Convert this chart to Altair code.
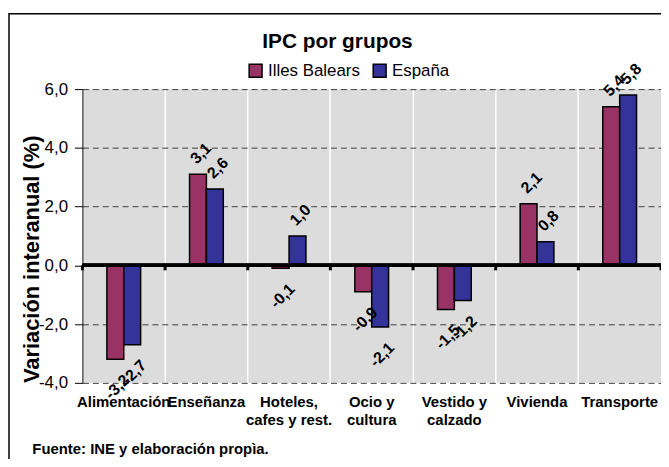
import altair as alt
import pandas as pd

categories = ["Alimentación", "Enseñanza", "Hoteles,\ncafes y rest.", "Ocio y\ncultura",
              "Vestido y\ncalzado", "Vivienda", "Transporte"]
series = ["Illes Balears", "España"]
baleares = [-3.2, 3.1, -0.1, -0.9, -1.5, 2.1, 5.4]
espana = [-2.7, 2.6, 1.0, -2.1, -1.2, 0.8, 5.8]
colors = ["#993366", "#333399"]
y_ticks = [-4, -2, 0, 2, 4, 6]
title_text = "IPC por grupos"
source_text = "Fuente: INE y elaboración propìa."
y_title = "Variación interanual (%)"

rows = []
for s, vals in zip(series, [baleares, espana]):
    for c, v in zip(categories, vals):
        rows.append({"categoria": c, "serie": s, "valor": v,
                     "etiqueta": f"{v:.1f}".replace(".", ",")})
df = pd.DataFrame(rows)
cats_df = pd.DataFrame({"categoria": categories})
one = pd.DataFrame({"t": [title_text]})

W, H = 583, 296
FONT = "Liberation Sans"
BW = W / len(categories)
BAR = 17
C45 = 0.7071


def rot_offset(sx, sy):
    # screen offset -> text-frame offset for a 315-degree rotated label
    return C45 * (sx - sy), C45 * (sx + sy)


pdx, pdy = rot_offset(3, -21)
ndx, ndy = rot_offset(2, 28)

xaxis = alt.Axis(
    title=source_text, labelAngle=0, labelExpr="split(datum.label, '\\n')",
    grid=True, gridColor="white", gridWidth=1.5, bandPosition=0,
    ticks=False, domain=False, labelFontSize=15, labelFontWeight="bold",
    labelPadding=12, labelLineHeight=18, labelOverlap=False, labelBound=False,
    labelColor="black", titleX=-51, titleY=71, titleAlign="left", titleAnchor="start",
    titleFontSize=15, titleFontWeight="bold", titleBaseline="alphabetic", titleColor="black",
)
xscale = alt.Scale(paddingInner=0, paddingOuter=0)
xenc = alt.X("categoria:N", sort=categories, scale=xscale, axis=xaxis)

yaxis = alt.Axis(
    values=y_ticks,
    labelExpr="(datum.value < 0 ? '-' : '') + replace(format(abs(datum.value), '.1f'), '.', ',')",
    grid=True, gridDash=[6, 4], gridColor="#404040", gridWidth=1,
    domainColor="black", domainWidth=1, tickColor="black", tickSize=8,
    labelFontSize=17, labelPadding=7, labelColor="black",
    title=y_title, titleFontSize=22, titleFontWeight="bold", titleX=-51, titleY=171,
    titleAngle=270, titleAlign="center", titleBaseline="middle", titleColor="black",
)
yscale = alt.Scale(domain=[-4, 6], nice=False, zero=False)
yenc = alt.Y("valor:Q", scale=yscale, axis=yaxis)

xoff = alt.XOffset("serie:N", sort=series,
                   scale=alt.Scale(paddingInner=0, paddingOuter=0,
                                   range=[BW / 2 - BAR, BW / 2 + BAR]))

base = alt.Chart(df)

bars = base.mark_bar(stroke="black", strokeWidth=1.5).encode(
    x=xenc, xOffset=xoff, y=yenc,
    color=alt.Color("serie:N", sort=series, scale=alt.Scale(domain=series, range=colors),
                    legend=alt.Legend(title=None, orient="none", legendX=166, legendY=-27,
                                      direction="horizontal", symbolType="square",
                                      symbolSize=169, symbolStrokeColor="black",
                                      symbolStrokeWidth=1.5, symbolOpacity=1,
                                      labelFontSize=17, labelOffset=4, columnPadding=10,
                                      labelColor="black", padding=0)),
)

lab_pos = base.transform_filter("datum.valor >= 0").mark_text(
    angle=315, fontSize=16, fontWeight="bold", align="center", baseline="middle",
    dx=pdx, dy=pdy, color="black").encode(
    x=alt.X("categoria:N", sort=categories), xOffset=xoff, y=alt.Y("valor:Q"), text="etiqueta:N")
lab_neg = base.transform_filter("datum.valor < 0").mark_text(
    angle=315, fontSize=16, fontWeight="bold", align="center", baseline="middle",
    dx=ndx, dy=ndy, color="black").encode(
    x=alt.X("categoria:N", sort=categories), xOffset=xoff, y=alt.Y("valor:Q"), text="etiqueta:N")

zero = alt.Chart(cats_df).mark_rule(strokeWidth=3, color="black").encode(y=alt.datum(0))
ticks0 = alt.Chart(cats_df).mark_rule(strokeWidth=3, color="black").encode(
    x=alt.X("categoria:N", sort=categories, bandPosition=0), y=alt.datum(0), y2=alt.datum(-0.17))
ticks1 = alt.Chart(cats_df).transform_filter(
    alt.FieldEqualPredicate(field="categoria", equal=categories[-1])).mark_rule(
    strokeWidth=3, color="black").encode(
    x=alt.X("categoria:N", sort=categories, bandPosition=1), y=alt.datum(0), y2=alt.datum(-0.17))

frame = alt.Chart(one).mark_rect(fillOpacity=0, stroke="black", strokeWidth=1.5).encode(
    x=alt.value(-74), x2=alt.value(600), y=alt.value(-76), y2=alt.value(420))
title = alt.Chart(one).mark_text(fontSize=21, fontWeight="bold", align="center",
                                 baseline="alphabetic", color="black").encode(
    x=alt.value(257), y=alt.value(-41), text="t:N")

chart = alt.layer(frame, bars, zero, ticks0, ticks1, lab_pos, lab_neg, title).properties(
    width=W, height=H, autosize="none",
    padding={"left": 75, "top": 80, "right": 0, "bottom": 75},
).configure(font=FONT).configure_view(strokeWidth=0, fill="#dcdcdc")

chart.save("out.html", embed_options={"renderer": "svg", "actions": False})
